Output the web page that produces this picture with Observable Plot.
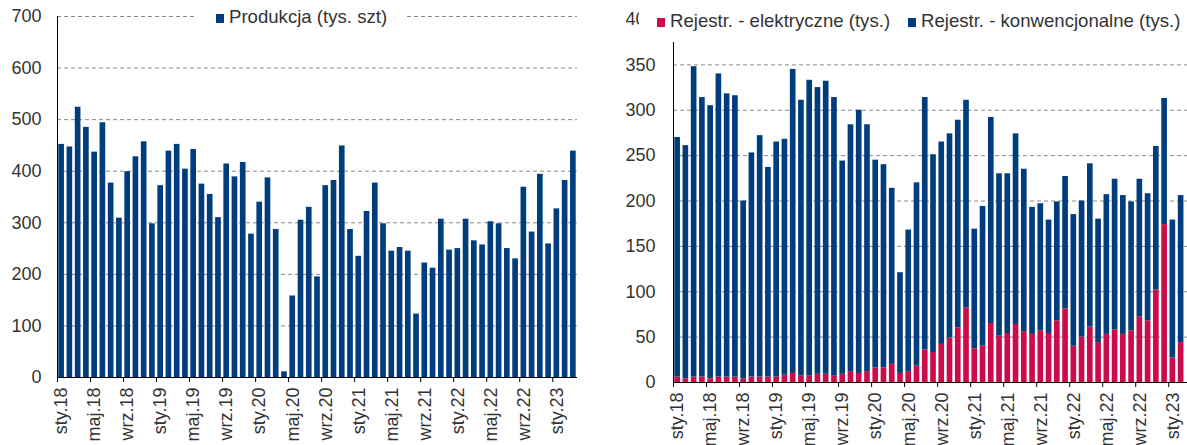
<!DOCTYPE html>
<html>
<head>
<meta charset="utf-8">
<script src="https://cdn.jsdelivr.net/npm/d3@7"></script>
<script src="https://cdn.jsdelivr.net/npm/@observablehq/plot@0.6"></script>
<style>
  html, body { margin:0; padding:0; background:#fff; }
  body { width:1187px; height:445px; overflow:hidden; position:relative;
         font-family:"Liberation Sans", Arial, sans-serif; color:#333; }
  .chart { position:absolute; top:0; }
  .legend { position:absolute; background:#fff; font-size:18.6px; color:#333; white-space:nowrap; }
  .legend .item { position:absolute; top:0; }
  .legend .sw { display:inline-block; width:8px; height:9px; vertical-align:baseline; margin-right:5px; }
</style>
</head>
<body>
<div id="left" class="chart" style="left:0;width:590px;"></div>
<div id="right" class="chart" style="left:590px;width:620px;"></div>
<div id="legL" class="legend" style="left:194px;top:4px;width:211px;height:26px;"></div>
<div id="legR" class="legend" style="left:639px;top:0px;width:560px;height:42px;"></div>
<script>
const BLUE = "#003d7d";
const RED = "#cc0c4a";

const months = [
  "sty.18","lut.18","mar.18","kwi.18","maj.18","cze.18","lip.18","sie.18","wrz.18","paź.18","lis.18","gru.18",
  "sty.19","lut.19","mar.19","kwi.19","maj.19","cze.19","lip.19","sie.19","wrz.19","paź.19","lis.19","gru.19",
  "sty.20","lut.20","mar.20","kwi.20","maj.20","cze.20","lip.20","sie.20","wrz.20","paź.20","lis.20","gru.20",
  "sty.21","lut.21","mar.21","kwi.21","maj.21","cze.21","lip.21","sie.21","wrz.21","paź.21","lis.21","gru.21",
  "sty.22","lut.22","mar.22","kwi.22","maj.22","cze.22","lip.22","sie.22","wrz.22","paź.22","lis.22","gru.22",
  "sty.23","lut.23","mar.23"
];

const tickLabels = ["sty.18","maj.18","wrz.18","sty.19","maj.19","wrz.19","sty.20","maj.20","wrz.20",
  "sty.21","maj.21","wrz.21","sty.22","maj.22","wrz.22","sty.23"];

const yTicksLeft = [0,100,200,300,400,500,600,700];
const yTicksRight = [0,50,100,150,200,250,300,350,400];

const legendLeft = ["Produkcja (tys. szt)"];
const legendRight = ["Rejestr. - elektryczne (tys.)", "Rejestr. - konwencjonalne (tys.)"];

// Production (thousand units), Jan 2018 - Mar 2023
const production = [
  452,447,524,485,437,494,377,309,399,428,457,298,
  372,439,452,404,442,375,355,310,414,389,417,278,
  340,387,287,11,158,305,330,195,372,382,449,287,
  235,322,377,298,245,252,245,123,222,212,307,247,
  250,307,265,257,302,298,250,230,369,282,394,259,
  327,382,439
];

// Registrations (thousand), Jan 2018 - Feb 2023
const electric = [
  6,4,6,6,4,6,6,6,4,6,6,6,
  6,8,10,7,7,9,9,7,9,12,10,12,
  16,16,20,10,12,18,36,33,42,49,60,82,
  37,40,65,51,54,64,56,53,57,54,68,81,
  40,50,61,44,53,58,53,57,72,68,102,174,
  27,44
];
const conventional = [
  264,257,342,308,301,334,312,310,196,247,266,231,
  259,260,335,304,326,316,323,307,235,272,290,272,
  229,224,194,111,156,202,278,218,223,225,229,229,
  132,154,227,179,176,210,179,140,140,125,131,146,
  145,150,180,136,154,166,153,142,152,140,158,139,
  152,162
];

const tickIdx = tickLabels.map(l => months.indexOf(l));
const labelPos = tickIdx.map(i => i + 0.5);
const labelAt = new Map(labelPos.map((p, k) => [p, tickLabels[k]]));

const font = {fontFamily: '"Liberation Sans", Arial, sans-serif', fontSize: "18px", color: "#333", background: "#fff", overflow: "visible", maxWidth: "none"};

function xAxisMarks() {
  return [
    Plot.axisX(tickIdx, {tickSize: 5, tickFormat: () => "", stroke: "#000", strokeOpacity: 1}),
    Plot.axisX(labelPos, {tickSize: 0, tickPadding: 10, tickRotate: -90, tickFormat: p => labelAt.get(p), fill: "#333"})
  ];
}

const left = Plot.plot({
  width: 590, height: 445,
  marginLeft: 57, marginRight: 13, marginTop: 16, marginBottom: 68,
  style: font,
  x: {domain: [0, months.length], axis: null},
  y: {domain: [0, 700], axis: null},
  marks: [
    Plot.ruleY(yTicksLeft.filter(v => v > 0), {stroke: "#8a8a8a", strokeDasharray: "4,3"}),
    Plot.axisY(yTicksLeft, {tickSize: 0, tickPadding: 16, fill: "#333"}),
    Plot.rectY(production, {x1: (d, i) => i, x2: (d, i) => i + 1, y1: 0, y2: d => d, insetLeft: 1.3, insetRight: 1.3, fill: BLUE}),
    Plot.ruleX([0], {stroke: "#000"}),
    Plot.ruleY([0], {stroke: "#000"}),
    ...xAxisMarks()
  ]
});
document.getElementById("left").append(left);

const regRows = [];
electric.forEach((e, i) => {
  regRows.push({i, series: legendRight[0], y1: 0, y2: e});
  regRows.push({i, series: legendRight[1], y1: e, y2: e + conventional[i]});
});

const right = Plot.plot({
  width: 620, height: 445,
  marginLeft: 83, marginRight: 17, marginTop: 19, marginBottom: 63,
  style: font,
  x: {domain: [0, months.length], axis: null},
  y: {domain: [0, 400], axis: null},
  color: {domain: legendRight, range: [RED, BLUE]},
  marks: [
    Plot.ruleY(yTicksRight.filter(v => v > 0), {stroke: "#8a8a8a", strokeDasharray: "4,3"}),
    Plot.axisY(yTicksRight, {tickSize: 0, tickPadding: 18, fill: "#333"}),
    Plot.rectY(regRows, {x1: d => d.i, x2: d => d.i + 1, y1: "y1", y2: "y2", fill: "series", insetLeft: 1.3, insetRight: 1.3}),
    Plot.ruleX([0], {stroke: "#000"}),
    Plot.ruleY([0], {stroke: "#000"}),
    ...xAxisMarks()
  ]
});
document.getElementById("right").append(right);

// Legends
const legL = document.getElementById("legL");
legL.innerHTML = `<span class="item" style="left:22px;top:2px;"><span class="sw" style="background:${BLUE}"></span>${legendLeft[0]}</span>`;
const legR = document.getElementById("legR");
legR.innerHTML =
  `<span class="item" style="left:18px;top:10px;"><span class="sw" style="background:${RED}"></span>${legendRight[0]}</span>` +
  `<span class="item" style="left:269px;top:10px;"><span class="sw" style="background:${BLUE}"></span>${legendRight[1]}</span>`;
</script>
</body>
</html>
